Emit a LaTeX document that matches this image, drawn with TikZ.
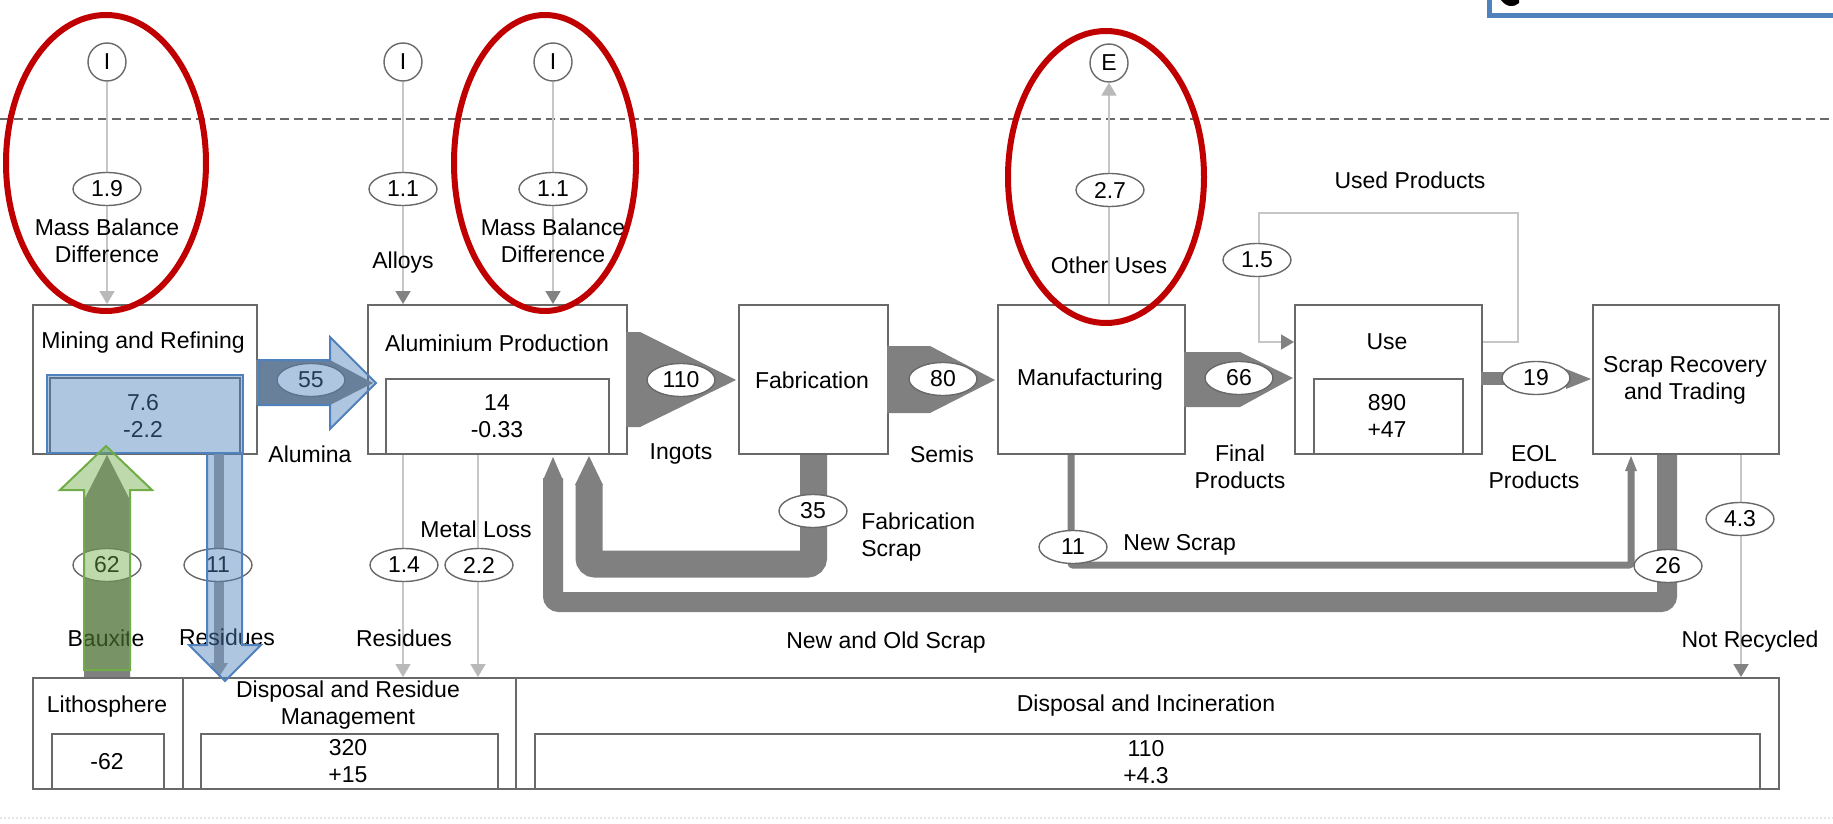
\documentclass[tikz,border=0pt]{standalone}
\usepackage{fontspec}
\setmainfont{Liberation Sans}
\usetikzlibrary{arrows.meta,shapes.geometric}
\definecolor{boxc}{RGB}{105,105,105}
\definecolor{flowc}{RGB}{128,128,128}
\definecolor{thinc}{RGB}{198,198,198}
\definecolor{tipl}{RGB}{185,185,185}
\definecolor{tipd}{RGB}{130,130,130}
\definecolor{obl}{RGB}{79,129,189}
\definecolor{ogr}{RGB}{112,173,71}
\definecolor{ored}{RGB}{192,0,0}
\begin{document}
\begin{tikzpicture}[x=0.5pt,y=-0.5pt,
  every node/.style={font=\fontsize{11.5}{13.5}\selectfont, inner sep=0pt, align=center},
  box/.style={draw=boxc, line width=1pt, fill=white, anchor=north west},
  val/.style={draw=boxc, ellipse, fill=white, line width=0.7pt, minimum width=34pt, minimum height=16.5pt},
  src/.style={draw=boxc, circle, fill=white, line width=0.7pt, minimum size=19pt},
  thin/.style={draw=thinc, line width=0.9pt},
  ltip/.style={-{Triangle[length=6.5pt,width=7.5pt,color=tipl]}},
  dtip/.style={-{Triangle[length=6.5pt,width=7.5pt,color=tipd]}},
  band/.style={draw=flowc, line cap=butt},
  overb/.style={draw=obl, line width=1pt, fill=obl, fill opacity=0.45},
  overg/.style={draw=ogr, line width=1pt, fill=ogr, fill opacity=0.45},
  redring/.style={draw=ored, line width=3pt}
]
\useasboundingbox (0,0) rectangle (1833,824);
\fill[white] (0,0) rectangle (1833,824);

% clipped box at top right
\draw[obl, line width=2.5pt, fill=white] (1489,-40) rectangle (1870,16);
\fill[black] (1501,0) .. controls (1506,7) and (1514,8) .. (1519,3) -- (1519,-2) -- (1501,-2) -- cycle;

% dashed boundary
\draw[boxc, line width=0.8pt, dash pattern=on 4.5pt off 2.5pt] (0,119) -- (1833,119);
\draw[gray!20, line width=0.8pt, dash pattern=on 1pt off 1pt] (0,818) -- (1833,818);

% ---------- main boxes ----------
\node[box, minimum width=112pt, minimum height=74.5pt] (mr) at (32,304) {};
\node[box, minimum width=95pt, minimum height=38pt] (mrI) at (49,377) {};
\node[box, minimum width=129.5pt, minimum height=74.5pt] (al) at (367,304) {};
\node[box, minimum width=111.5pt, minimum height=37.5pt] (alI) at (385,378) {};
\node[box, minimum width=74.5pt, minimum height=74.5pt] (fab) at (738,304) {};
\node[box, minimum width=93.5pt, minimum height=74.5pt] (man) at (997,304) {};
\node[box, minimum width=93.5pt, minimum height=74.5pt] (use) at (1294,304) {};
\node[box, minimum width=74.5pt, minimum height=37.5pt] (useI) at (1313,378) {};
\node[box, minimum width=93pt, minimum height=74.5pt] (scr) at (1592,304) {};

% bottom boxes
\node[box, minimum width=75pt, minimum height=55.5pt] (lith) at (32,677) {};
\node[box, minimum width=56pt, minimum height=27.5pt] (lithI) at (51,733) {};
\node[box, minimum width=166.5pt, minimum height=55.5pt] (dis) at (182,677) {};
\node[box, minimum width=148.5pt, minimum height=27.5pt] (disI) at (200,733) {};
\node[box, minimum width=631.5pt, minimum height=55.5pt] (inc) at (515,677) {};
\node[box, minimum width=612.5pt, minimum height=27.5pt] (incI) at (534,733) {};

% box texts
\node (mrT) at (143,343) {Mining and Refining};
\node (mrV) at (143,416) {7.6\\-2.2};
\node (alT) at (497,343) {Aluminium Production};
\node (alV) at (497,416) {14\\-0.33};
\node (fabT) at (812,380) {Fabrication};
\node (manT) at (1090,380) {Manufacturing};
\node (useT) at (1387,342) {Use};
\node (useV) at (1387,416) {890\\+47};
\node (scrT) at (1685,380) {Scrap Recovery\\and Trading};
\node (lithT) at (107,707) {Lithosphere};
\node (lithV) at (107,762) {-62};
\node (disT) at (348,705) {Disposal and Residue\\Management};
\node (disV) at (348,761) {320\\+15};
\node (incT) at (1146,706) {Disposal and Incineration};
\node (incV) at (1146,762) {110\\+4.3};

% ---------- sources above the boundary ----------
\node[src] (s1) at (107,62) {I};
\node[src] (s2) at (403,62) {I};
\node[src] (s3) at (553,62) {I};
\node[src] (e1) at (1109,63) {E};

\draw[thin, ltip] (s1) -- (s1 |- mr.north);
\draw[thin, dtip] (s2) -- (s2 |- al.north);
\draw[thin, dtip] (s3) -- (s3 |- al.north);
\draw[thin, ltip] (man.north -| e1) -- (e1);

% used products loop
\coordinate (up1) at (1518,213);
\coordinate (up2) at (1259,213);
\draw[thin, dtip] (use.east |- 0,342) -| (up1) -- (up2) |- (use.west |- 0,342);

% ---------- gray flows ----------
% alumina underlay
\fill[flowc] (256,360) -- (330,360) -- (373,383) -- (330,405) -- (256,405) -- cycle;
% ingots
\fill[flowc] (626,332) -- (640,332) -- (736,380) -- (640,427) -- (626,427) -- cycle;
% semis
\fill[flowc] (887,346) -- (930,346) -- (995,380) -- (930,413) -- (887,413) -- cycle;
% final products
\fill[flowc] (1184,352) -- (1240,352) -- (1293,378) -- (1240,407) -- (1184,407) -- cycle;
% EOL products
\fill[flowc] (1481,372) rectangle (1570,385);
\fill[flowc] (1566,369) -- (1591,379) -- (1566,389) -- cycle;

% bauxite underlay
\fill[flowc] (84,677) -- (84,500) -- (107,455) -- (130,500) -- (130,677) -- cycle;
% residues underlay
\fill[flowc!80!white] (214,453) rectangle (224,665);
\fill[flowc!80!white] (210,663) -- (219,677) -- (228,663) -- cycle;

% metal losses / residues from aluminium production
\draw[thin, ltip] (al.south -| s2) -- (lith.north -| s2);
\draw[thin, ltip] (al.south -| 478,0) -- (lith.north -| 478,0);

% fabrication scrap
\coordinate (fsA) at (589,484);
\draw[band, line width=13.5pt, rounded corners=3pt] (fab.south) -- (fab.south |- 0,564) -- (fsA |- 0,564) -- (fsA);
\fill[flowc] (575,485) -- (589,456) -- (603,485) -- cycle;

% new and old scrap
\coordinate (noA) at (553,478);
\draw[band, line width=10pt, rounded corners=3pt] (scr.south -| 1667,0) -- (1667,602) -- (noA |- 0,602) -- (noA);
\fill[flowc] (543.5,479) -- (553,457) -- (562.5,479) -- cycle;

% new scrap
\coordinate (nsA) at (1631,470);
\draw[band, line width=3.5pt, rounded corners=1pt] (man.south -| 1071,0) -- (1071,565) -- (nsA |- 0,565) -- (nsA);
\fill[flowc] (1625,471) -- (1631,456) -- (1637,471) -- cycle;

% not recycled
\draw[thin, dtip] (scr.south -| 1741,0) -- (inc.north -| 1741,0);

% ---------- value labels ----------
\node[val] (v19) at (107,189) {1.9};
\node[val] (v11a) at (403,189) {1.1};
\node[val] (v11b) at (553,189) {1.1};
\node[val] (v27) at (1110,190) {2.7};
\node[val] (v15) at (1257,260) {1.5};
\node[val] (v55) at (311,380) {55};
\node[val] (v110) at (681,380) {110};
\node[val] (v80) at (943,379) {80};
\node[val] (v66) at (1239,378) {66};
\node[val] (v19b) at (1536,378) {19};
\node[val] (v62) at (107,565) {62};
\node[val] (v11r) at (218,565) {11};
\node[val] (v14) at (404,565) {1.4};
\node[val] (v22) at (479,565) {2.2};
\node[val] (v35) at (813,511) {35};
\node[val] (v11n) at (1073,547) {11};
\node[val] (v26) at (1668,566) {26};
\node[val] (v43) at (1740,519) {4.3};

% ---------- flow names ----------
\node (mb1) at (107,241) {Mass Balance\\Difference};
\node (mb2) at (553,241) {Mass Balance\\Difference};
\node (alloys) at (403,263) {Alloys};
\node (other) at (1109,265) {Other Uses};
\node (used) at (1410,180) {Used Products};
\node (alumina) at (310,454) {Alumina};
\node (ingots) at (681,454) {Ingots};
\node (semis) at (942,454) {Semis};
\node (finalp) at (1240,467) {Final\\Products};
\node (eolp) at (1534,467) {EOL\\Products};
\node[anchor=west, align=left] (fscrap) at (861,537) {Fabrication\\Scrap};
\node[anchor=west] (nscrap) at (1123,545) {New Scrap};
\node (mloss) at (476,529) {Metal Loss};
\node (bauxite) at (106,638) {Bauxite};
\node (res1) at (227,637) {Residues};
\node (res2) at (404,638) {Residues};
\node (noscrap) at (886,643) {New and Old Scrap};
\node (notrec) at (1750,642) {Not Recycled};

% ---------- highlight overlays ----------
\draw[overb, line width=1.2pt] (47,375) rectangle (243,453);
\draw[overb] (259,360) -- (330,360) -- (330,337) -- (376,383) -- (330,429) -- (330,405) -- (259,405) -- cycle;
\draw[overg] (84,670) -- (84,490) -- (60,490) -- (106,446) -- (152,490) -- (130,490) -- (130,670) -- cycle;
\draw[overb] (207,453) -- (242,453) -- (242,645) -- (261,645) -- (225,681) -- (189,645) -- (207,645) -- cycle;

% ---------- red annotation rings ----------
\draw[redring] (106,163) ellipse [x radius=100, y radius=148];
\draw[redring] (545,163) ellipse [x radius=91, y radius=148];
\draw[redring] (1106,177) ellipse [x radius=98, y radius=146];
\end{tikzpicture}
\end{document}
